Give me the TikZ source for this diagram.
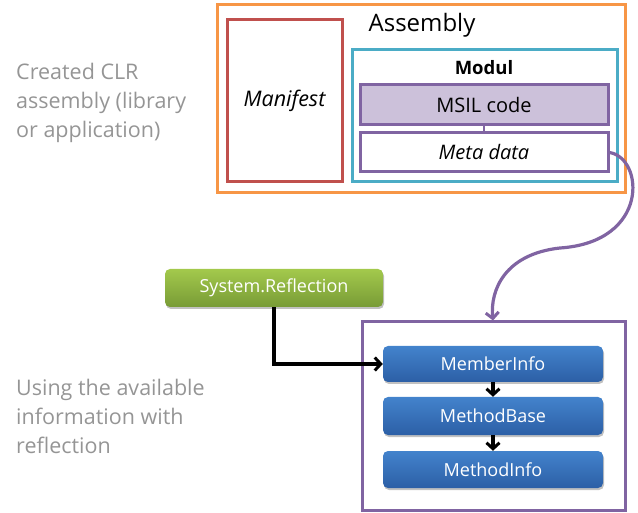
\documentclass[tikz,border=0pt]{standalone}
\usepackage{fontspec}
\setmainfont{Open Sans}
\usetikzlibrary{arrows.meta,shadows}
\definecolor{cOrange}{HTML}{F79646}
\definecolor{cRed}{HTML}{C0504D}
\definecolor{cTeal}{HTML}{4BACC6}
\definecolor{cPurple}{HTML}{8064A2}
\definecolor{cLilac}{HTML}{CCC1DA}
\definecolor{cGray}{HTML}{959595}
\definecolor{cBlueTop}{HTML}{4383CC}
\definecolor{cBlueBot}{HTML}{2C5FA6}
\definecolor{cGreenTop}{HTML}{A3C94C}
\definecolor{cGreenBot}{HTML}{789B36}
\tikzset{
  frame/.style={draw, line width=3pt, inner sep=0pt},
  bluebox/.style={rounded corners=5pt, inner sep=0pt, minimum width=220pt,
    top color=cBlueTop, bottom color=cBlueBot, text=white,
    font=\fontsize{18}{20}\selectfont,
    drop shadow={shadow xshift=1pt, shadow yshift=-2pt, opacity=0.35, fill=black!70}},
  greenbox/.style={rounded corners=5pt, inner sep=0pt, minimum width=218pt, minimum height=38pt,
    top color=cGreenTop, bottom color=cGreenBot, text=white,
    font=\fontsize{18}{20}\selectfont,
    drop shadow={shadow xshift=1pt, shadow yshift=-2pt, opacity=0.35, fill=black!70}},
  sidetext/.style={anchor=north west, align=left, text=cGray, inner sep=0pt,
    font=\fontsize{21.5}{29}\selectfont},
  conn/.style={line width=3.2pt},
  barb/.style={-{Straight Barb[length=6pt,width=13pt,line width=3pt]}}
}
\begin{document}
\begin{tikzpicture}[x=1pt,y=-1pt]
\useasboundingbox (0,0) rectangle (638,513);
% upper
\node[frame, draw=cOrange, minimum width=408pt, minimum height=188pt] (asm) at (421,99) {};
\node[frame, draw=cRed, minimum width=115pt, minimum height=162pt, font=\fontsize{21.5}{22}\selectfont\itshape] (man) at (284.5,101) {Manifest};
\node[inner sep=0pt, font=\fontsize{24}{26}\selectfont] (asmlabel) at (422,25) {Assembly};
\node[frame, draw=cTeal, minimum width=265pt, minimum height=132pt] (mod) at (484.5,116) {};
\node[inner sep=0pt, font=\fontsize{18.5}{20}\selectfont\bfseries] (modlabel) at (484,68) {Modul};
\node[frame, draw=cPurple, fill=cLilac, minimum width=248pt, minimum height=40pt, font=\fontsize{20}{22}\selectfont] (msil) at (484,105) {MSIL code};
\node[frame, draw=cPurple, fill=white, minimum width=248pt, minimum height=39pt, font=\fontsize{20}{22}\selectfont\itshape] (meta) at (484,152.5) {Meta data};
\draw[line width=2.5pt, cPurple] (msil.south) -- (meta.north);
% left texts
\node[sidetext] (t1) at (16,63) {Created CLR\\assembly (library\\or application)};
\node[sidetext] (t2) at (16,379) {Using the available\\information with\\reflection};
% lower
\node[frame, draw=cPurple, minimum width=263pt, minimum height=188pt] (refl) at (493.5,416) {};
\node[bluebox, minimum height=36pt] (m1) at (493,364) {MemberInfo};
\node[bluebox, minimum height=38pt] (m2) at (493,416) {MethodBase};
\node[bluebox, minimum height=37pt] (m3) at (493,469.5) {MethodInfo};
\node[greenbox] (sr) at (274,288) {System.Reflection};
\draw[conn, barb] (sr.south) |- (m1.west);
\draw[conn, barb] (m1.south) -- (m2.north);
\draw[conn, barb] (m2.south) -- (m3.north);
\draw[conn, barb, cPurple] (meta.east) .. controls (644,158) and (650,242) .. (560,248)
  .. controls (505,254) and (490,290) .. (refl.north -| m1.north);
\end{tikzpicture}
\end{document}
